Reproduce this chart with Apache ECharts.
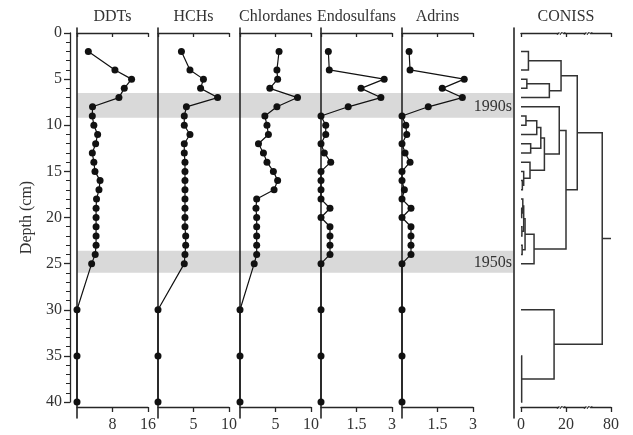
<!DOCTYPE html>
<html>
<head>
<meta charset="utf-8">
<script src="https://cdn.jsdelivr.net/npm/echarts@6/dist/echarts.min.js"></script>
<style>
html, body { margin: 0; padding: 0; background: #fff; }
#profile { width: 633px; height: 435px; }
</style>
</head>
<body>
<div id="profile"></div>
<script>
// sample depths (cm) and concentrations per compound group
const depths = [2, 4, 5, 6, 7, 8, 9, 10, 11, 12, 13, 14, 15, 16, 17, 18, 19, 20, 21, 22, 23, 24, 25, 30, 35, 40];
const ddts = [2.55, 8.55, 12.3, 10.65, 9.45, 3.5, 3.45, 3.8, 4.65, 4.2, 3.45, 3.8, 4.05, 5.2, 4.95, 4.4, 4.3, 4.3, 4.3, 4.3, 4.3, 4.1, 3.3, 0, 0, 0];
const hchs = [3.3, 4.5, 6.4, 6.0, 8.4, 4.0, 3.7, 3.7, 4.5, 3.7, 3.7, 3.8, 3.8, 3.8, 3.8, 3.8, 3.8, 3.8, 3.8, 3.9, 3.9, 3.8, 3.7, 0, 0, 0];
const chlordanes = [5.5, 5.2, 5.3, 4.2, 8.1, 5.2, 3.5, 3.8, 4.0, 2.6, 3.3, 3.8, 4.7, 5.3, 4.8, 2.35, 2.25, 2.35, 2.35, 2.35, 2.35, 2.35, 2.0, 0, 0, 0];
const endosulfans = [0.31, 0.35, 2.67, 1.69, 2.53, 1.15, 0, 0.2, 0.2, 0, 0.14, 0.41, 0, 0, 0, 0, 0.38, 0, 0.38, 0.38, 0.38, 0.38, 0, 0, 0, 0];
const adrins = [0.3, 0.34, 2.63, 1.7, 2.55, 1.11, 0, 0.16, 0.2, 0, 0.13, 0.34, 0, 0, 0.1, 0, 0.38, 0, 0.38, 0.38, 0.38, 0.38, 0, 0, 0, 0];

const titles = ['DDTs', 'HCHs', 'Chlordanes', 'Endosulfans', 'Adrins'];
const panelMax = [16, 10, 10, 3, 3];
const panelStep = [8, 5, 5, 1.5, 1.5];

// zones
const bandTop = [6.5, 23.6];
const bandBottom = [9.2, 26.0];
const bandLabels = ['1990s', '1950s'];

// CONISS merges: [node, left, right, distance]; numbers are leaf depths
const conissMerges = [
  ['a', 2, 4, 3.3],
  ['b1', 5, 6, 2.6],
  ['b', 'b1', 7, 12.6],
  ['ab', 'a', 'b', 17.8],
  ['n1', 9, 10, 2.2],
  ['n2', 'n1', 11, 7.0],
  ['n3', 12, 13, 4.3],
  ['n4', 'n2', 'n3', 8.8],
  ['n5', 16, 17, 0.6],
  ['n6', 15, 'n5', 1.2],
  ['n7', 14, 'n6', 4.0],
  ['d', 'n4', 'n7', 10.4],
  ['c1', 8, 'd', 17.0],
  ['e1', 19, 20, 0.3],
  ['e2', 18, 'e1', 0.8],
  ['e3', 21, 22, 0.4],
  ['e4', 'e2', 'e3', 1.2],
  ['e5', 23, 24, 0.5],
  ['e6', 'e4', 'e5', 1.8],
  ['e', 'e6', 25, 5.8],
  ['c2', 'c1', 'e', 20.0],
  ['up', 'ab', 'c2', 25.0],
  ['l1', 35, 40, 0.3],
  ['l', 30, 'l1', 14.7],
  ['root', 'up', 'l', 36.1],
];
const conissTicks = [0, 20, 80];
const conissBreaks = [17.8, 29.8];

const FONT = 'Liberation Serif';
const INK = '#262626';
const txt = { fontFamily: FONT, fontSize: 16, color: '#333' };
// panel frame: depth 0 sits at y=33, 40 at y=402
const D_MIN = -0.542, D_MAX = 41.734;

const chart = echarts.init(document.getElementById('profile'));
const grids = [], xAxes = [], yAxes = [], series = [];

function frameY(gi, offset) {
  return {
    gridIndex: gi, type: 'value', inverse: true, min: D_MIN, max: D_MAX, offset: offset || 0,
    axisLine: { show: true, onZero: false, lineStyle: { color: INK, width: 1.6 } },
    axisTick: { show: false }, axisLabel: { show: false }, splitLine: { show: false }
  };
}

function xPair(gi, max, step, name, showMin, fmt) {
  xAxes.push({
    gridIndex: gi, type: 'value', position: 'top', offset: -5, min: 0, max: max, interval: step,
    name: name, nameLocation: 'middle', nameGap: 8, nameTextStyle: Object.assign({}, txt),
    axisLine: { show: true, onZero: false, lineStyle: { color: INK, width: 1.3 } },
    axisTick: { show: true, inside: true, length: 4, lineStyle: { color: INK, width: 1.3 } },
    axisLabel: { show: false }, splitLine: { show: false }
  });
  xAxes.push({
    gridIndex: gi, type: 'value', position: 'bottom', offset: -11, min: 0, max: max, interval: step,
    axisLine: { show: true, onZero: false, lineStyle: { color: INK, width: 1.3 } },
    axisTick: { show: true, inside: false, length: 5, lineStyle: { color: INK, width: 1.3 } },
    axisLabel: Object.assign({ margin: 10, showMinLabel: showMin, formatter: fmt }, txt),
    splitLine: { show: false }
  });
  return xAxes.length - 1;
}

// grid 0: depth axis only
grids.push({ left: 70, top: 33, width: 2, height: 369 });
xAxes.push({ gridIndex: 0, type: 'value', show: false });
yAxes.push({
  gridIndex: 0, type: 'value', inverse: true, min: 0, max: 40, interval: 5,
  name: 'Depth (cm)', nameLocation: 'middle', nameGap: 35, nameRotate: 90,
  nameTextStyle: Object.assign({}, txt),
  axisLine: { show: true, lineStyle: { color: INK, width: 1.3 } },
  axisTick: { show: true, length: 6, lineStyle: { color: INK, width: 1.3 } },
  minorTick: { show: true, splitNumber: 5, length: 4, lineStyle: { color: INK, width: 1 } },
  axisLabel: Object.assign({ margin: 8 }, txt),
  splitLine: { show: false }
});

// grid 1: shaded zones behind everything
grids.push({ left: 77, top: 28, width: 436, height: 390 });
xAxes.push({ gridIndex: 1, type: 'value', min: 0, max: 1, show: false });
yAxes.push({ gridIndex: 1, type: 'value', inverse: true, min: D_MIN, max: D_MAX, show: false });
series.push({
  type: 'custom', xAxisIndex: xAxes.length - 1, yAxisIndex: 1, z: -5, silent: true,
  data: bandTop.map((t, i) => [t, bandBottom[i]]),
  renderItem: function (params, api) {
    const p0 = api.coord([0, api.value(0)]);
    const p1 = api.coord([1, api.value(1)]);
    return {
      type: 'group', children: [
        { type: 'rect', shape: { x: p0[0], y: p0[1], width: p1[0] - p0[0], height: p1[1] - p0[1] }, style: { fill: '#d9d9d9' } },
        { type: 'text', style: { text: bandLabels[params.dataIndex], x: p1[0] - 1, y: (p0[1] + p1[1]) / 2 + 1, align: 'right', verticalAlign: 'middle', font: '16px "Liberation Serif"', fill: '#333' } }
      ]
    };
  }
});

// compound panels
const panelData = [ddts, hchs, chlordanes, endosulfans, adrins];
const panelLeft = [77, 158, 240, 321, 402];
panelData.forEach(function (vals, k) {
  const gi = grids.length;
  grids.push({ left: panelLeft[k], top: 28, width: 71, height: 390 });
  yAxes.push(frameY(gi));
  const xi = xPair(gi, panelMax[k], panelStep[k], titles[k], false);
  series.push({
    type: 'line', xAxisIndex: xi, yAxisIndex: gi, z: 3,
    data: depths.map((d, i) => [vals[i], d]),
    symbol: 'circle', symbolSize: 7, showAllSymbol: true,
    lineStyle: { color: '#111', width: 1.2 }, itemStyle: { color: '#111' }
  });
});

// CONISS dendrogram
const ci = grids.length;
grids.push({ left: 521, top: 28, width: 90, height: 390 });
yAxes.push(frameY(ci, 7));
const cx = xPair(ci, 40, 20, 'CONISS', true, function (v) {
  return String(conissTicks[Math.round(v / 20)]);
});

const pos = {};
depths.forEach(d => { pos[d] = { x: 0, y: d }; });
const links = [];
conissMerges.forEach(function (m) {
  const A = pos[m[1]], B = pos[m[2]];
  links.push([A.x, A.y, m[3], B.y, B.x]);
  pos[m[0]] = { x: m[3], y: (A.y + B.y) / 2 };
});
links.push([pos.root.x, pos.root.y, 40, pos.root.y, 40]);

series.push({
  type: 'custom', xAxisIndex: cx, yAxisIndex: ci, z: 3, silent: true,
  data: links,
  renderItem: function (params, api) {
    const hl = api.value(0), yl = api.value(1), h = api.value(2), yr = api.value(3), hr = api.value(4);
    return {
      type: 'polyline',
      shape: { points: [api.coord([hl, yl]), api.coord([h, yl]), api.coord([h, yr]), api.coord([hr, yr])] },
      style: { fill: null, stroke: '#333', lineWidth: 1.5 }
    };
  }
});

// break marks on the CONISS axes
series.push({
  type: 'custom', xAxisIndex: cx, yAxisIndex: ci, z: 4, silent: true,
  data: conissBreaks.map(b => [b, 0]).concat(conissBreaks.map(b => [b, 40.54])),
  renderItem: function (params, api) {
    const p = api.coord([api.value(0), api.value(1)]);
    return {
      type: 'group', x: p[0], y: p[1], children: [
        { type: 'rect', shape: { x: -2, y: -3, width: 4, height: 6 }, style: { fill: '#fff' } },
        { type: 'path', shape: { pathData: 'M-4,2 C-2,-3 0,3 1,-1 M-1,2 C1,-3 3,3 4,-1' }, style: { fill: null, stroke: '#333', lineWidth: 1 } }
      ]
    };
  }
});

chart.setOption({
  animation: false,
  backgroundColor: '#fff',
  textStyle: { fontFamily: FONT },
  grid: grids,
  xAxis: xAxes,
  yAxis: yAxes,
  series: series
});
</script>
</body>
</html>
